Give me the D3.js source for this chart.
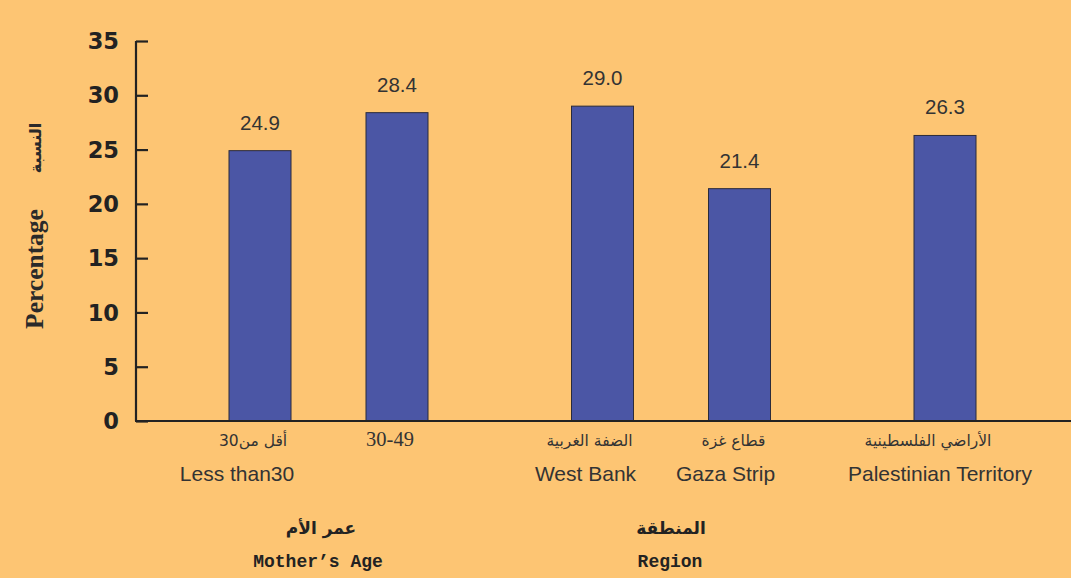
<!DOCTYPE html>
<html><head><meta charset="utf-8">
<script src="https://cdn.jsdelivr.net/npm/d3@7"></script>
<style>
html,body{margin:0;padding:0;background:#FDC573;}
svg{display:block;}
</style></head>
<body>
<svg id="chart" width="1071" height="578"></svg>
<script>
const categoriesEn = ["Less than30", "", "West Bank", "Gaza Strip", "Palestinian Territory"];
const categoriesAr = ["أقل من30", "30-49", "الضفة الغربية", "قطاع غزة", "الأراضي الفلسطينية"];
const groups = [0, 0, 1, 1, 2];
const values = [24.9, 28.4, 29.0, 21.4, 26.3];
const yTicks = [0, 5, 10, 15, 20, 25, 30, 35];
const groupTitlesAr = ["عمر الأم", "المنطقة"];
const groupTitlesEn = ["Mother’s Age", "Region"];

const svg = d3.select("#chart");
const W = 1071, H = 578;
svg.append("rect").attr("width", W).attr("height", H).attr("fill", "#FDC573");

const y = d3.scaleLinear().domain([0, 35]).range([421, 41]);
const slot = values.map((v, i) => i + 0.5 * groups[i]);
const x = d3.scaleLinear().domain([0, 5]).range([260, 945]);
const bw = 62;

// bars
svg.selectAll("rect.bar").data(values).enter().append("rect")
  .attr("class", "bar")
  .attr("x", (d, i) => x(slot[i]) - bw / 2)
  .attr("width", bw)
  .attr("y", d => y(d))
  .attr("height", d => y(0) - y(d))
  .attr("fill", "#4B56A5")
  .attr("stroke", "#2b2b3a")
  .attr("stroke-width", 1);

// value labels
svg.selectAll("text.val").data(values).enter().append("text")
  .attr("x", (d, i) => x(slot[i]))
  .attr("y", d => y(d) - 21)
  .attr("text-anchor", "middle")
  .attr("font-family", "Liberation Sans, Arial, sans-serif")
  .attr("font-size", 20.5)
  .attr("fill", "#333")
  .text(d => d.toFixed(1));

// y axis
const yAxis = d3.axisRight(y).tickValues(yTicks).tickSize(12).tickFormat("");
const gy = svg.append("g").attr("transform", "translate(136,0)").call(yAxis);
gy.select(".domain").attr("stroke", "#222").attr("stroke-width", 2.2).attr("d", "M0," + y(35) + "V" + y(0));
gy.selectAll(".tick line").attr("stroke", "#222").attr("stroke-width", 2.2);

svg.selectAll("text.ytick").data(yTicks).enter().append("text")
  .attr("x", 119)
  .attr("y", d => y(d))
  .attr("dy", "0.36em")
  .attr("text-anchor", "end")
  .attr("font-family", "DejaVu Sans, sans-serif")
  .attr("font-weight", "bold")
  .attr("font-size", 22.5)
  .attr("fill", "#222")
  .text(d => d);

// x axis line
svg.append("line").attr("x1", 135).attr("x2", W).attr("y1", y(0)).attr("y2", y(0))
  .attr("stroke", "#222").attr("stroke-width", 2.2);

// y axis title
svg.append("text")
  .attr("transform", "translate(43,269) rotate(-90)")
  .attr("text-anchor", "middle")
  .attr("fill", "#2a2a2a")
  .attr("font-family", "Liberation Serif, Times New Roman, serif")
  .attr("font-weight", "bold").attr("font-size", 25.5).text("Percentage");
svg.append("text")
  .attr("transform", "translate(41,148) rotate(-90)")
  .attr("text-anchor", "middle")
  .attr("fill", "#2a2a2a")
  .attr("font-family", "DejaVu Sans, sans-serif")
  .attr("font-weight", "bold").attr("font-size", 16).text("النسبة");

// x category labels
const arShift = [-7, -7, -13, -6, -17];
const enShift = [-23, 0, -17, -14, -5];
svg.selectAll("text.ar").data(categoriesAr).enter().append("text")
  .attr("x", (d, i) => x(slot[i]) + arShift[i])
  .attr("y", 446)
  .attr("text-anchor", "middle")
  .attr("font-family", (d, i) => i === 1 ? "Liberation Serif, serif" : "DejaVu Sans, sans-serif")
  .attr("font-size", (d, i) => i === 1 ? 20.5 : 15.5)
  .attr("fill", "#333")
  .text(d => d);

svg.selectAll("text.en").data(categoriesEn).enter().append("text")
  .attr("x", (d, i) => x(slot[i]) + enShift[i])
  .attr("y", 481)
  .attr("text-anchor", "middle")
  .attr("font-family", "Liberation Sans, Arial, sans-serif")
  .attr("font-size", 21)
  .attr("fill", "#333")
  .text(d => d);

// group titles
svg.selectAll("text.gar").data(groupTitlesAr).enter().append("text")
  .attr("x", (d, i) => [321, 671][i])
  .attr("y", 534)
  .attr("text-anchor", "middle")
  .attr("font-family", "DejaVu Sans, sans-serif")
  .attr("font-weight", "bold")
  .attr("font-size", 17)
  .attr("fill", "#222")
  .text(d => d);

svg.selectAll("text.gen").data(groupTitlesEn).enter().append("text")
  .attr("x", (d, i) => [318, 670][i])
  .attr("y", 567)
  .attr("text-anchor", "middle")
  .attr("font-family", "Liberation Mono, Courier New, monospace")
  .attr("font-weight", "bold")
  .attr("font-size", 18)
  .attr("fill", "#222")
  .text(d => d);
</script>
</body></html>
